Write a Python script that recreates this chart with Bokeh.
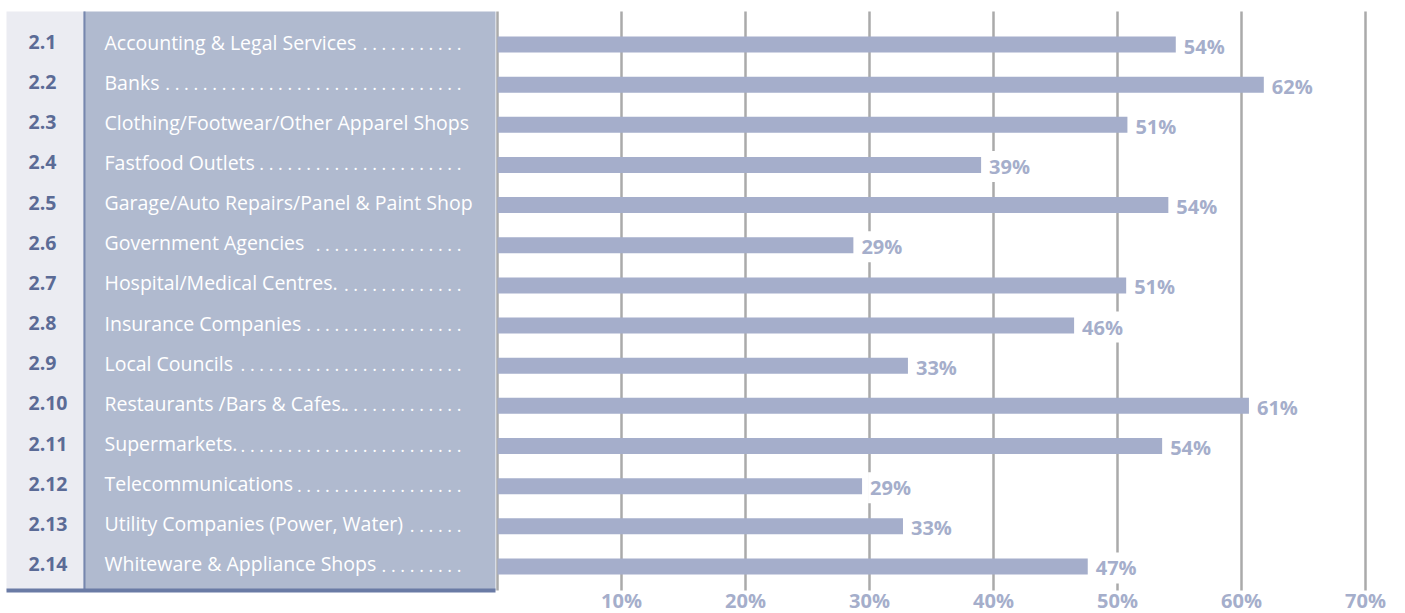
from bokeh.plotting import figure
from bokeh.models import Range1d, ColumnDataSource
from bokeh.core.properties import value
from bokeh.embed import file_html
from bokeh.resources import INLINE

# ---- data ----
codes = ["2.1", "2.2", "2.3", "2.4", "2.5", "2.6", "2.7", "2.8", "2.9", "2.10",
         "2.11", "2.12", "2.13", "2.14"]
categories = [
    "Accounting & Legal Services",
    "Banks",
    "Clothing/Footwear/Other Apparel Shops",
    "Fastfood Outlets",
    "Garage/Auto Repairs/Panel & Paint Shop",
    "Government Agencies",
    "Hospital/Medical Centres.",
    "Insurance Companies",
    "Local Councils",
    "Restaurants /Bars & Cafes.",
    "Supermarkets.",
    "Telecommunications",
    "Utility Companies (Power, Water)",
    "Whiteware & Appliance Shops",
]
leader_dots = [11, 32, 0, 22, 0, 16, 13, 17, 24, 13, 24, 18, 6, 9]
values = [54.7, 61.8, 50.8, 39.0, 54.1, 28.7, 50.7, 46.5, 33.1, 60.6, 53.6, 29.4, 32.7, 47.6]
value_labels = ["54%", "62%", "51%", "39%", "54%", "29%", "51%", "46%", "33%", "61%",
                "54%", "29%", "33%", "47%"]
ticks = [10, 20, 30, 40, 50, 60, 70]
tick_labels = ["10%", "20%", "30%", "40%", "50%", "60%", "70%"]

# ---- layout helpers (screen px -> data) ----
W, H = 1405, 613
LEFT, TOP = 0, 0
X0, XS = 497.0, 12.4      # screen x of 0%, px per percent
Y0, RS = 44.0, 40.15      # screen y of first row, px per row

def sx(px):
    return (px - X0) / XS

def sy(py):
    return (py - Y0) / RS

p = figure(width=W, height=H, output_backend="svg", toolbar_location=None,
           x_range=Range1d(sx(LEFT), sx(LEFT + W)),
           y_range=Range1d(sy(TOP + H), sy(TOP)),
           x_axis_location=None, y_axis_location=None,
           min_border=0, outline_line_color=None)
p.xgrid.visible = False
p.ygrid.visible = False
p.background_fill_color = "white"
p.border_fill_color = "white"

FONT = "Open Sans"
rows = list(range(len(categories)))

# left panel
p.quad(left=sx(6), right=sx(83), top=sy(11), bottom=sy(590), fill_color="#ebecf2", line_color=None)
p.quad(left=sx(83), right=sx(495), top=sy(11), bottom=sy(590), fill_color="#b0bacf", line_color=None)
p.segment(x0=sx(84), x1=sx(84), y0=sy(11), y1=sy(590), line_color="#7787ae", line_width=2)
p.quad(left=sx(6), right=sx(495), top=sy(588), bottom=sy(592), fill_color="#6a7ba5", line_color=None)

# grid lines
grid_x = [0] + ticks
p.segment(x0=grid_x, x1=grid_x, y0=[sy(11)] * len(grid_x), y1=[sy(590)] * len(grid_x),
          line_color="#aaaaaa", line_width=2.5)

# bars
src = ColumnDataSource(dict(
    y=rows, v=values, lab=value_labels, code=codes, cat=categories,
    dots=[" ".join(["."] * n) for n in leader_dots],
    ylab=[r + 1.5 / RS for r in rows],
    ytxt=[r - 2.5 / RS for r in rows],
    ydot=[r - 1.5 / RS for r in rows],
))
p.hbar(y="y", left=0, right="v", height=16 / RS, source=src,
       fill_color="#a5aecb", line_color=None)

# value labels
p.text(x="v", y="ylab", text="lab", source=src, x_offset=6,
       text_font=value(FONT), text_font_style="bold", text_font_size="20px",
       text_color="#a5aecb", text_align="left", text_baseline="middle",
       background_fill_color="white", padding=2)

# codes
p.text(x=sx(28), y="ytxt", text="code", source=src,
       text_font=value(FONT), text_font_style="bold", text_font_size="19.5px",
       text_color="#5b6b96", text_align="left", text_baseline="middle")

# category names
p.text(x=sx(104), y="ytxt", text="cat", source=src,
       text_font=value(FONT), text_font_size="19.5px",
       text_color="white", text_align="left", text_baseline="middle")

# dot leaders
p.text(x=sx(461), y="ydot", text="dots", source=src,
       text_font=value(FONT), text_font_size="18px",
       text_color="white", text_align="right", text_baseline="middle")

# tick labels
p.text(x=ticks, y=[sy(599.5)] * len(ticks), text=tick_labels,
       text_font=value(FONT), text_font_style="bold", text_font_size="20px",
       text_color="#a5aecb", text_align="center", text_baseline="middle")

open("out.html", "w").write(file_html(p, INLINE))
